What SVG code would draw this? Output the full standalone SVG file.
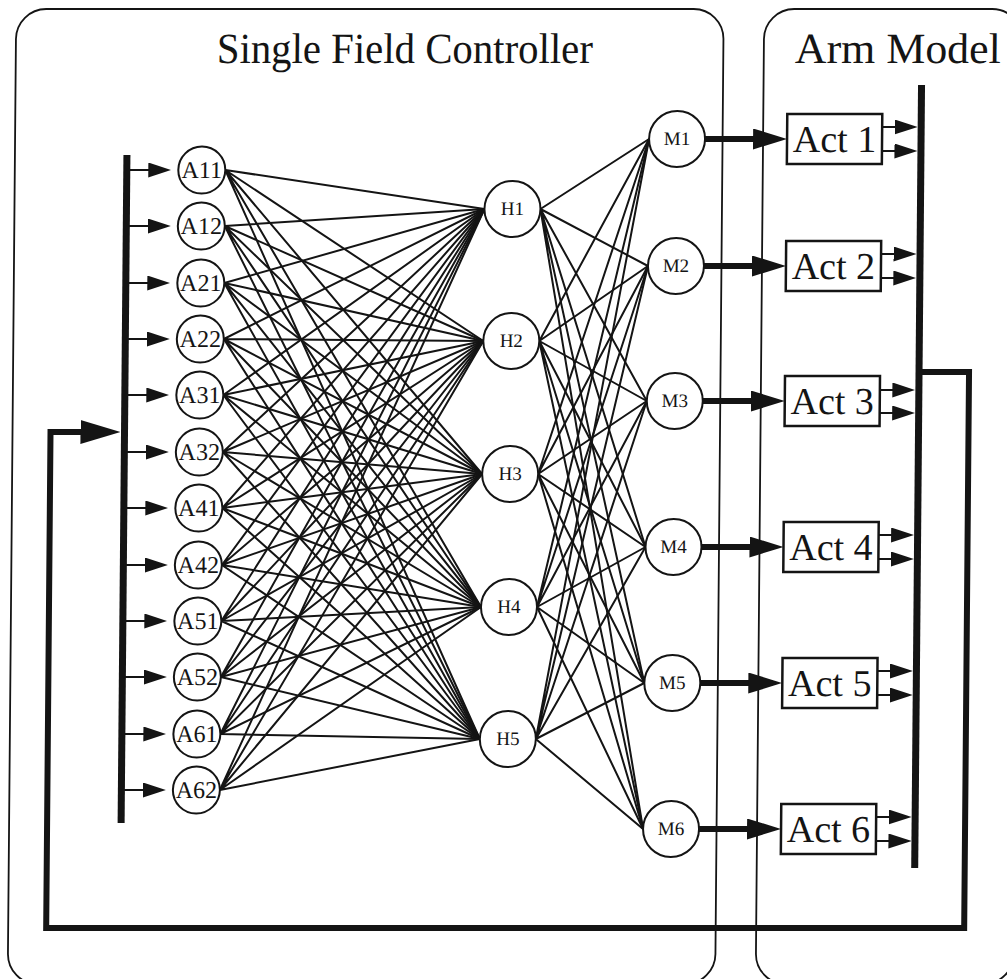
<svg xmlns="http://www.w3.org/2000/svg" width="1007" height="979" viewBox="0 0 1007 979">
  <style>
    .frame { fill: none; stroke: #141414; stroke-width: 1.8; }
    .title { font-family: "Liberation Serif", "Times New Roman", serif; font-size: 43px; fill: #141414; text-anchor: middle; }
    .node circle { fill: #fff; stroke: #141414; stroke-width: 2; }
    .node text { font-family: "Liberation Serif", "Times New Roman", serif; fill: #141414; text-anchor: middle; }
    .a text { font-size: 24px; }
    .hm text { font-size: 19px; }
    .act rect { fill: #fff; stroke: #141414; stroke-width: 2.5; }
    .act text { font-family: "Liberation Serif", "Times New Roman", serif; font-size: 38px; fill: #141414; text-anchor: middle; }
    .w { stroke: #141414; stroke-width: 2; fill: none; }
    .bus { stroke: #141414; stroke-width: 7; fill: none; }
    .thin { stroke: #141414; stroke-width: 2; fill: none; marker-end: url(#ah); }
    .thick { stroke: #141414; stroke-width: 6; fill: none; marker-end: url(#ahThick); }
    .loop { stroke: #141414; stroke-width: 6; fill: none; stroke-linejoin: miter; marker-end: url(#ahBig); }
  </style>
  <defs>
    <marker id="ah" markerUnits="userSpaceOnUse" viewBox="0 0 23 15" markerWidth="23" markerHeight="15" refX="15" refY="7.5" orient="auto">
      <path d="M0 0L23 7.5L0 15Z" fill="#141414"/>
    </marker>
    <marker id="ahThick" markerUnits="userSpaceOnUse" viewBox="0 0 34 21" markerWidth="34" markerHeight="21" refX="24" refY="10.5" orient="auto">
      <path d="M0 0L34 10.5L0 21Z" fill="#141414"/>
    </marker>
    <marker id="ahBig" markerUnits="userSpaceOnUse" viewBox="0 0 40 24" markerWidth="40" markerHeight="24" refX="28" refY="12" orient="auto">
      <path d="M0 0L40 12L0 24Z" fill="#141414"/>
    </marker>
  </defs>
  <rect width="1007" height="979" fill="#fff"/>
  <!-- whole drawing carries a slight shear about mid-height -->
  <g transform="translate(4.28 0) skewX(-0.5)">
    <g id="frames">
      <rect class="frame" x="12" y="9" width="707.5" height="975" rx="30"/>
      <rect class="frame" x="760" y="9" width="258" height="975" rx="30"/>
      <text class="title" x="401" y="63" textLength="376" lengthAdjust="spacingAndGlyphs">Single Field Controller</text>
      <text class="title" x="894" y="63" textLength="206" lengthAdjust="spacingAndGlyphs">Arm Model</text>
    </g>

    <g id="connectors">
      <!-- input bus and feed-in arrows -->
      <line class="bus" x1="124" y1="155" x2="124" y2="823"/>
      <line class="thin" x1="124" y1="170" x2="160.5" y2="170"/>
      <line class="thin" x1="124" y1="226" x2="160.5" y2="226"/>
      <line class="thin" x1="124" y1="283" x2="160.5" y2="283"/>
      <line class="thin" x1="124" y1="339" x2="160.5" y2="339"/>
      <line class="thin" x1="124" y1="395" x2="160.5" y2="395"/>
      <line class="thin" x1="124" y1="452" x2="160.5" y2="452"/>
      <line class="thin" x1="124" y1="508" x2="160.5" y2="508"/>
      <line class="thin" x1="124" y1="565" x2="160.5" y2="565"/>
      <line class="thin" x1="124" y1="621" x2="160.5" y2="621"/>
      <line class="thin" x1="124" y1="677" x2="160.5" y2="677"/>
      <line class="thin" x1="124" y1="734" x2="160.5" y2="734"/>
      <line class="thin" x1="124" y1="790" x2="160.5" y2="790"/>

      <!-- input layer to hidden layer, fully connected -->
      <path class="w" d="M222.5 170L482 209M222.5 170L482 341M222.5 170L482 474M222.5 170L482 607M222.5 170L482 739"/>
      <path class="w" d="M222.5 226L482 209M222.5 226L482 341M222.5 226L482 474M222.5 226L482 607M222.5 226L482 739"/>
      <path class="w" d="M222.5 283L482 209M222.5 283L482 341M222.5 283L482 474M222.5 283L482 607M222.5 283L482 739"/>
      <path class="w" d="M222.5 339L482 209M222.5 339L482 341M222.5 339L482 474M222.5 339L482 607M222.5 339L482 739"/>
      <path class="w" d="M222.5 395L482 209M222.5 395L482 341M222.5 395L482 474M222.5 395L482 607M222.5 395L482 739"/>
      <path class="w" d="M222.5 452L482 209M222.5 452L482 341M222.5 452L482 474M222.5 452L482 607M222.5 452L482 739"/>
      <path class="w" d="M222.5 508L482 209M222.5 508L482 341M222.5 508L482 474M222.5 508L482 607M222.5 508L482 739"/>
      <path class="w" d="M222.5 565L482 209M222.5 565L482 341M222.5 565L482 474M222.5 565L482 607M222.5 565L482 739"/>
      <path class="w" d="M222.5 621L482 209M222.5 621L482 341M222.5 621L482 474M222.5 621L482 607M222.5 621L482 739"/>
      <path class="w" d="M222.5 677L482 209M222.5 677L482 341M222.5 677L482 474M222.5 677L482 607M222.5 677L482 739"/>
      <path class="w" d="M222.5 734L482 209M222.5 734L482 341M222.5 734L482 474M222.5 734L482 607M222.5 734L482 739"/>
      <path class="w" d="M222.5 790L482 209M222.5 790L482 341M222.5 790L482 474M222.5 790L482 607M222.5 790L482 739"/>

      <!-- hidden layer to motor layer, fully connected -->
      <path class="w" d="M538 209L646 139M538 209L646 266M538 209L646 401M538 209L646 547M538 209L646 683M538 209L646 829"/>
      <path class="w" d="M538 341L646 139M538 341L646 266M538 341L646 401M538 341L646 547M538 341L646 683M538 341L646 829"/>
      <path class="w" d="M538 474L646 139M538 474L646 266M538 474L646 401M538 474L646 547M538 474L646 683M538 474L646 829"/>
      <path class="w" d="M538 607L646 139M538 607L646 266M538 607L646 401M538 607L646 547M538 607L646 683M538 607L646 829"/>
      <path class="w" d="M538 739L646 139M538 739L646 266M538 739L646 401M538 739L646 547M538 739L646 683M538 739L646 829"/>

      <!-- motor outputs to actuators -->
      <line class="thick" x1="702" y1="139" x2="774" y2="139"/>
      <line class="thick" x1="702" y1="266" x2="774" y2="266"/>
      <line class="thick" x1="702" y1="401" x2="774" y2="401"/>
      <line class="thick" x1="702" y1="547" x2="774" y2="547"/>
      <line class="thick" x1="702" y1="683" x2="774" y2="683"/>
      <line class="thick" x1="702" y1="829" x2="774" y2="829"/>

      <!-- actuator outputs onto the arm bus -->
      <line class="thin" x1="879" y1="127" x2="906.5" y2="127"/>
      <line class="thin" x1="879" y1="151" x2="906.5" y2="151"/>
      <line class="thin" x1="879" y1="254" x2="906.5" y2="254"/>
      <line class="thin" x1="879" y1="278" x2="906.5" y2="278"/>
      <line class="thin" x1="879" y1="390" x2="906.5" y2="390"/>
      <line class="thin" x1="879" y1="413" x2="906.5" y2="413"/>
      <line class="thin" x1="879" y1="535" x2="906.5" y2="535"/>
      <line class="thin" x1="879" y1="559" x2="906.5" y2="559"/>
      <line class="thin" x1="879" y1="671" x2="906.5" y2="671"/>
      <line class="thin" x1="879" y1="695" x2="906.5" y2="695"/>
      <line class="thin" x1="879" y1="817" x2="906.5" y2="817"/>
      <line class="thin" x1="879" y1="841" x2="906.5" y2="841"/>
      <line class="bus" x1="918" y1="85" x2="918" y2="868"/>

      <!-- feedback loop from the arm back to the input bus -->
      <polyline class="loop" points="918,372 968,372 968,928 50,928 50,432 108,432"/>
    </g>

    <g id="A11" class="node a"><circle cx="199" cy="170" r="23.5"/><text x="199" y="178">A11</text></g>
    <g id="A12" class="node a"><circle cx="199" cy="226" r="23.5"/><text x="199" y="234">A12</text></g>
    <g id="A21" class="node a"><circle cx="199" cy="283" r="23.5"/><text x="199" y="291">A21</text></g>
    <g id="A22" class="node a"><circle cx="199" cy="339" r="23.5"/><text x="199" y="347">A22</text></g>
    <g id="A31" class="node a"><circle cx="199" cy="395" r="23.5"/><text x="199" y="403">A31</text></g>
    <g id="A32" class="node a"><circle cx="199" cy="452" r="23.5"/><text x="199" y="460">A32</text></g>
    <g id="A41" class="node a"><circle cx="199" cy="508" r="23.5"/><text x="199" y="516">A41</text></g>
    <g id="A42" class="node a"><circle cx="199" cy="565" r="23.5"/><text x="199" y="573">A42</text></g>
    <g id="A51" class="node a"><circle cx="199" cy="621" r="23.5"/><text x="199" y="629">A51</text></g>
    <g id="A52" class="node a"><circle cx="199" cy="677" r="23.5"/><text x="199" y="685">A52</text></g>
    <g id="A61" class="node a"><circle cx="199" cy="734" r="23.5"/><text x="199" y="742">A61</text></g>
    <g id="A62" class="node a"><circle cx="199" cy="790" r="23.5"/><text x="199" y="798">A62</text></g>

    <g id="H1" class="node hm"><circle cx="510" cy="209" r="28"/><text x="510" y="215.5">H1</text></g>
    <g id="H2" class="node hm"><circle cx="510" cy="341" r="28"/><text x="510" y="347.5">H2</text></g>
    <g id="H3" class="node hm"><circle cx="510" cy="474" r="28"/><text x="510" y="480.5">H3</text></g>
    <g id="H4" class="node hm"><circle cx="510" cy="607" r="28"/><text x="510" y="613.5">H4</text></g>
    <g id="H5" class="node hm"><circle cx="510" cy="739" r="28"/><text x="510" y="745.5">H5</text></g>

    <g id="M1" class="node hm"><circle cx="674" cy="139" r="28"/><text x="674" y="145.5">M1</text></g>
    <g id="M2" class="node hm"><circle cx="674" cy="266" r="28"/><text x="674" y="272.5">M2</text></g>
    <g id="M3" class="node hm"><circle cx="674" cy="401" r="28"/><text x="674" y="407.5">M3</text></g>
    <g id="M4" class="node hm"><circle cx="674" cy="547" r="28"/><text x="674" y="553.5">M4</text></g>
    <g id="M5" class="node hm"><circle cx="674" cy="683" r="28"/><text x="674" y="689.5">M5</text></g>
    <g id="M6" class="node hm"><circle cx="674" cy="829" r="28"/><text x="674" y="835.5">M6</text></g>

    <g id="Act1" class="act"><rect x="784" y="114" width="95" height="50"/><text x="831.5" y="152">Act 1</text></g>
    <g id="Act2" class="act"><rect x="784" y="241" width="95" height="50"/><text x="831.5" y="279">Act 2</text></g>
    <g id="Act3" class="act"><rect x="784" y="376" width="95" height="50"/><text x="831.5" y="414">Act 3</text></g>
    <g id="Act4" class="act"><rect x="784" y="522" width="95" height="50"/><text x="831.5" y="560">Act 4</text></g>
    <g id="Act5" class="act"><rect x="784" y="658" width="95" height="50"/><text x="831.5" y="696">Act 5</text></g>
    <g id="Act6" class="act"><rect x="784" y="804" width="95" height="50"/><text x="831.5" y="842">Act 6</text></g>
  </g>
</svg>
